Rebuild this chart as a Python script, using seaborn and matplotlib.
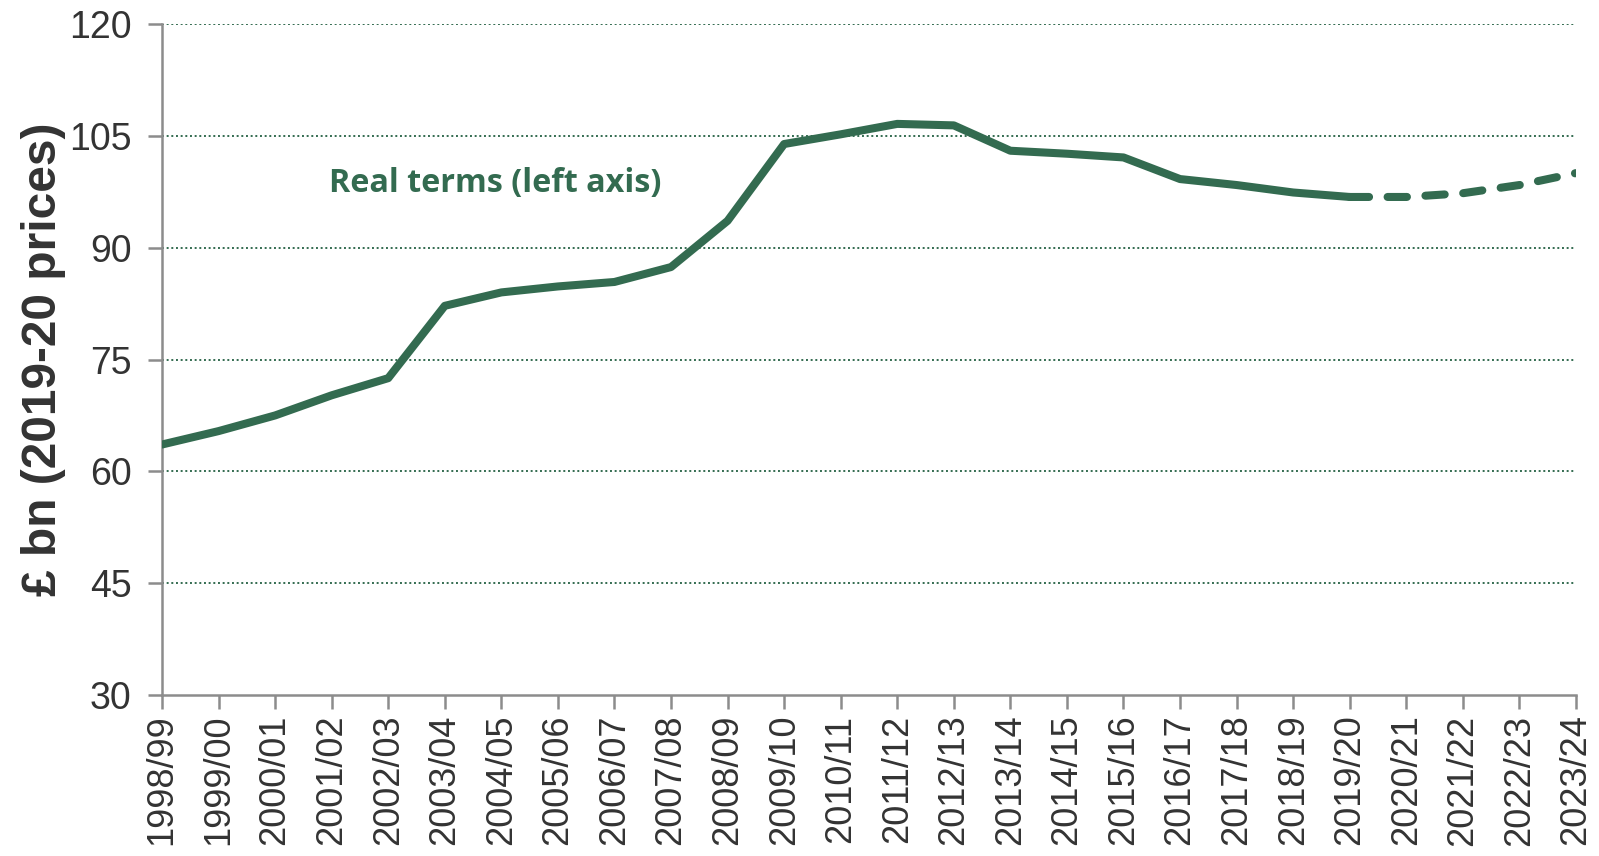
import matplotlib
matplotlib.use("Agg")
import matplotlib.pyplot as plt
import seaborn as sns
import pandas as pd
import numpy as np

years = ["1998/99", "1999/00", "2000/01", "2001/02", "2002/03", "2003/04", "2004/05",
         "2005/06", "2006/07", "2007/08", "2008/09", "2009/10", "2010/11", "2011/12",
         "2012/13", "2013/14", "2014/15", "2015/16", "2016/17", "2017/18", "2018/19",
         "2019/20", "2020/21", "2021/22", "2022/23", "2023/24"]
real_terms = [63.6, 65.4, 67.5, 70.2, 72.5, 82.2, 84.0, 84.8, 85.4, 87.4, 93.6, 103.9,
              105.2, 106.6, 106.4, 103.0, 102.6, 102.1, 99.2, 98.4, 97.4, 96.8, 96.8,
              97.3, 98.4, 100.0]
forecast_start = "2019/20"
yticks = [30, 45, 60, 75, 90, 105, 120]

sns.set_theme(style="white")
plt.rcParams['font.family'] = ['Liberation Sans', 'DejaVu Sans']

green = "#336B50"
grey_axis = "#8C8C8C"
text_col = "#333333"

df = pd.DataFrame({"year": years, "value": real_terms})
df["x"] = np.arange(len(years))
fi = years.index(forecast_start)
hist = df[df["x"] <= fi]
fc = df[df["x"] >= fi]

fig = plt.figure(figsize=(15.99, 8.56), dpi=100)
ax = fig.add_axes([0.1013, 0.188, 0.8843, 0.784])

for y in yticks[1:]:
    ax.axhline(y, color=green, lw=1.4, ls=(0, (1, 1.4)), zorder=1)

sns.lineplot(data=hist, x="x", y="value", ax=ax, color=green, lw=5.8,
             solid_capstyle="round", solid_joinstyle="round", zorder=3)
sns.lineplot(data=fc, x="x", y="value", ax=ax, color=green, lw=5.8,
             dashes=False, zorder=3)
ax.lines[-1].set_linestyle((0, (2.4, 2.3)))
ax.lines[-1].set_dash_capstyle("round")

ax.set_xlim(0, len(years) - 1)
ax.set_ylim(30, 120)
ax.set_yticks(yticks)
ax.set_yticklabels([str(v) for v in yticks], fontsize=27, color=text_col)
ax.set_xticks(df["x"])
ax.set_xticklabels(years, rotation=90, fontsize=26, color=text_col)
ax.set_xlabel("")
ax.set_ylabel("£ bn (2019-20 prices)", fontsize=34.5, fontweight="bold", color=text_col, labelpad=2)

for side in ["top", "right"]:
    ax.spines[side].set_visible(False)
for side in ["left", "bottom"]:
    ax.spines[side].set_color(grey_axis)
    ax.spines[side].set_linewidth(1.8)
ax.tick_params(axis="both", which="both", direction="out", length=10, width=1.8,
               color=grey_axis, bottom=True, left=True, pad=4)
ax.tick_params(axis="y", pad=12)
ax.grid(False)

ax.text(2.95, 98.6, "Real terms (left axis)", fontsize=23.3, fontweight="bold",
        color=green, family=["Open Sans", "DejaVu Sans"], va="center", ha="left")

fig.savefig("out.png", dpi=100, facecolor="white")
